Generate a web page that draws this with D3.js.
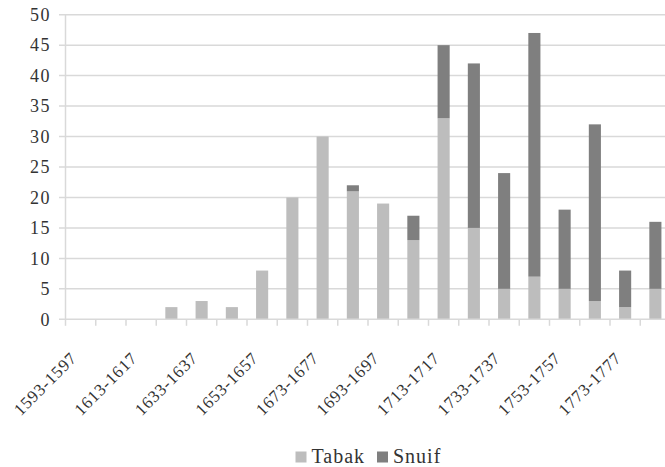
<!DOCTYPE html>
<html>
<head>
<meta charset="utf-8">
<script src="https://cdn.jsdelivr.net/npm/d3@7/dist/d3.min.js"></script>
<style>
  html, body { margin: 0; padding: 0; background: #fff; }
  svg { display: block; }
</style>
</head>
<body>
<svg id="chart" width="665" height="467"></svg>
<script>
// Five-year periods, one every decade
const periods = [
  "1593-1597", "1603-1607", "1613-1617", "1623-1627", "1633-1637",
  "1643-1647", "1653-1657", "1663-1667", "1673-1677", "1683-1687",
  "1693-1697", "1703-1707", "1713-1717", "1723-1727", "1733-1737",
  "1743-1747", "1753-1757", "1763-1767", "1773-1777", "1783-1787"
];
const tabak = [0, 0, 0, 2, 3, 2, 8, 20, 30, 21, 19, 13, 33, 15, 5, 7, 5, 3, 2, 5];
const snuif = [0, 0, 0, 0, 0, 0, 0, 0, 0, 1, 0, 4, 12, 27, 19, 40, 13, 29, 6, 11];
const yTicks = [0, 5, 10, 15, 20, 25, 30, 35, 40, 45, 50];
const seriesNames = ["Tabak", "Snuif"];
const seriesColors = ["#bdbdbd", "#7f7f7f"];

const textColor = "#333";
const fontFamily = "Liberation Serif";
const gridColor = "#d9d9d9";
const svg = d3.select("#chart");

const plotLeft = 65.5, plotRight = 670.5, plotTop = 14.7, plotBottom = 319.3;

const x = d3.scaleBand()
  .domain(periods)
  .range([plotLeft, plotRight])
  .paddingInner(0.6)
  .paddingOuter(0.3);

const y = d3.scaleLinear().domain([0, 50]).range([plotBottom, plotTop]);

// Horizontal gridlines with short ticks left of the axis
svg.append("g").selectAll("line")
  .data(yTicks.filter(d => d > 0))
  .join("line")
  .attr("x1", plotLeft - 6.5).attr("x2", 665)
  .attr("y1", d => y(d)).attr("y2", d => y(d))
  .attr("stroke", gridColor).attr("stroke-width", 1.5);

// Value axis labels
svg.append("g").selectAll("text")
  .data(yTicks)
  .join("text")
  .attr("x", 51)
  .attr("y", d => y(d))
  .attr("dy", "0.35em")
  .attr("text-anchor", "end")
  .attr("font-family", fontFamily)
  .attr("font-size", 18)
  .attr("letter-spacing", 1.5)
  .attr("fill", textColor)
  .text(d => d);

// Stacked bars
const rows = periods.map((p, i) => ({ period: p, Tabak: tabak[i], Snuif: snuif[i] }));
const stack = d3.stack().keys(seriesNames)(rows);

svg.append("g").selectAll("g")
  .data(stack)
  .join("g")
  .attr("fill", (d, i) => seriesColors[i])
  .selectAll("rect")
  .data(d => d.filter(s => s[1] - s[0] > 0))
  .join("rect")
  .attr("x", d => x(d.data.period))
  .attr("width", x.bandwidth())
  .attr("y", d => y(d[1]))
  .attr("height", d => y(d[0]) - y(d[1]));

// Vertical axis line
svg.append("line")
  .attr("x1", plotLeft).attr("x2", plotLeft)
  .attr("y1", plotTop).attr("y2", plotBottom)
  .attr("stroke", gridColor).attr("stroke-width", 1.5);

// Category axis line and ticks at period boundaries
svg.append("line")
  .attr("x1", plotLeft - 6.5).attr("x2", 665)
  .attr("y1", plotBottom).attr("y2", plotBottom)
  .attr("stroke", gridColor).attr("stroke-width", 1.5);

const boundaries = periods.map(p => x(p) + x.bandwidth() / 2 - x.step() / 2);
boundaries.push(plotRight);
svg.append("g").selectAll("line")
  .data(boundaries)
  .join("line")
  .attr("x1", d => d).attr("x2", d => d)
  .attr("y1", plotBottom).attr("y2", plotBottom + 6.5)
  .attr("stroke", gridColor).attr("stroke-width", 1.5);

// Category labels, every second period, rotated
svg.append("g").selectAll("text")
  .data(periods.filter((p, i) => i % 2 === 0))
  .join("text")
  .attr("transform", p => "translate(" + (x(p) + x.bandwidth() / 2 - 7) + ",355) rotate(-45)")
  .attr("dy", "0.35em")
  .attr("text-anchor", "end")
  .attr("font-family", fontFamily)
  .attr("font-size", 17)
  .attr("letter-spacing", 0.8)
  .attr("fill", textColor)
  .text(p => p);

// Legend
const legend = svg.append("g");
const legendItems = [{ name: "Tabak", x: 295.5 }, { name: "Snuif", x: 377 }];
legendItems.forEach((item, i) => {
  legend.append("rect")
    .attr("x", item.x).attr("y", 451.5)
    .attr("width", 11).attr("height", 11)
    .attr("fill", seriesColors[i]);
  legend.append("text")
    .attr("x", item.x + 16).attr("y", 462.5)
    .attr("font-family", fontFamily)
    .attr("font-size", 20)
    .attr("letter-spacing", 1)
    .attr("fill", textColor)
    .text(item.name);
});
</script>
</body>
</html>
